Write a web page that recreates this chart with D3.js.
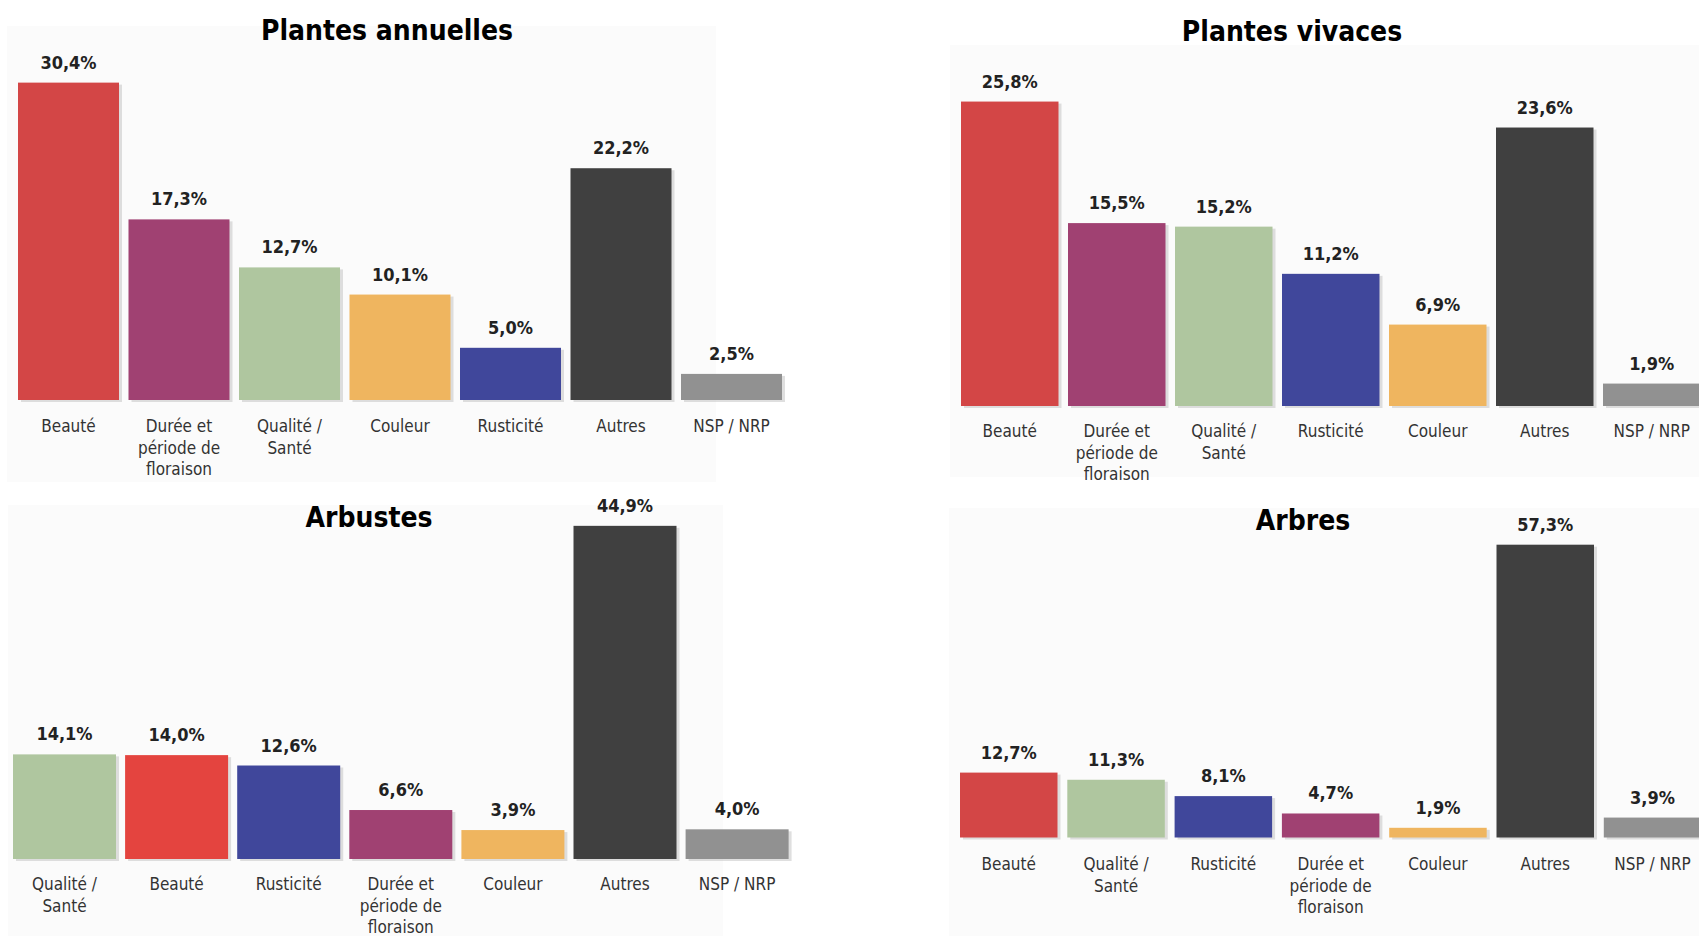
<!DOCTYPE html>
<html>
<head>
<meta charset="utf-8">
<script src="https://cdn.jsdelivr.net/npm/d3@7"></script>
<style>
  html, body { margin: 0; padding: 0; background: #fff; }
  svg { display: block; font-family: "DejaVu Sans Condensed", "DejaVu Sans", sans-serif; }
</style>
</head>
<body>
<svg id="chart" width="1699" height="936"></svg>
<script>
// data
const annuellesCats = ['Beauté', 'Durée et\npériode de\nfloraison', 'Qualité /\nSanté', 'Couleur', 'Rusticité', 'Autres', 'NSP / NRP'];
const annuellesVals = [30.4, 17.3, 12.7, 10.1, 5.0, 22.2, 2.5];

const vivacesCats = ['Beauté', 'Durée et\npériode de\nfloraison', 'Qualité /\nSanté', 'Rusticité', 'Couleur', 'Autres', 'NSP / NRP'];
const vivacesVals = [25.8, 15.5, 15.2, 11.2, 6.9, 23.6, 1.9];

const arbustesCats = ['Qualité /\nSanté', 'Beauté', 'Rusticité', 'Durée et\npériode de\nfloraison', 'Couleur', 'Autres', 'NSP / NRP'];
const arbustesVals = [14.1, 14.0, 12.6, 6.6, 3.9, 44.9, 4.0];

const arbresCats = ['Beauté', 'Qualité /\nSanté', 'Rusticité', 'Durée et\npériode de\nfloraison', 'Couleur', 'Autres', 'NSP / NRP'];
const arbresVals = [12.7, 11.3, 8.1, 4.7, 1.9, 57.3, 3.9];

const colorKeys = ['Beauté', 'Durée et\npériode de\nfloraison', 'Qualité /\nSanté', 'Couleur', 'Rusticité', 'Autres', 'NSP / NRP'];
const colorVals = ['#d34646', '#a04172', '#afc69f', '#efb55f', '#40479b', '#404040', '#919191'];

// layout of each panel (pixels)
const panels = [
    { title: 'Plantes annuelles', cats: annuellesCats, vals: annuellesVals,
      left: 18, step: 110.5, width: 101, baseline: 400, ppp: 10.44,
      titleX: 387, titleY: 40, labelY: 432, bg: [7, 26, 709, 456] },
    { title: 'Plantes vivaces', cats: vivacesCats, vals: vivacesVals,
      left: 961, step: 107, width: 97.5, baseline: 406, ppp: 11.8,
      titleX: 1292, titleY: 41, labelY: 437, bg: [950, 45, 749, 432] },
    { title: 'Arbustes', cats: arbustesCats, vals: arbustesVals,
      left: 13, step: 112.1, width: 103, baseline: 859, ppp: 7.42,
      titleX: 369, titleY: 527, labelY: 890, bg: [8, 505, 715, 431],
      override: { 'Beauté': '#e4443f' } },
    { title: 'Arbres', cats: arbresCats, vals: arbresVals,
      left: 960, step: 107.3, width: 97.5, baseline: 837.5, ppp: 5.11,
      titleX: 1303, titleY: 530, labelY: 870, bg: [949, 508, 750, 428] }
];

const color = d3.scaleOrdinal().domain(colorKeys).range(colorVals);
const frFormat = d3.formatLocale({ decimal: ',', thousands: ' ', grouping: [3], currency: ['', ' €'] }).format('.1f');

const svg = d3.select('#chart');

panels.forEach(function (p) {
    const g = svg.append('g');

    g.append('rect')
        .attr('x', p.bg[0]).attr('y', p.bg[1])
        .attr('width', p.bg[2]).attr('height', p.bg[3])
        .attr('fill', '#fbfbfb');

    const n = p.cats.length;
    const pad = 1 - p.width / p.step;
    const x = d3.scaleBand()
        .domain(p.cats)
        .range([p.left - p.step * pad / 2, p.left - p.step * pad / 2 + n * p.step])
        .paddingInner(pad)
        .paddingOuter(pad / 2);
    const y = d3.scaleLinear()
        .domain([0, 100])
        .range([p.baseline, p.baseline - 100 * p.ppp]);

    const data = p.cats.map((c, i) => ({ cat: c, val: p.vals[i] }));

    // soft shadow
    g.selectAll('rect.shadow')
        .data(data)
        .enter()
        .append('rect')
        .attr('class', 'shadow')
        .attr('x', d => x(d.cat) + 3)
        .attr('y', d => y(d.val) + 2)
        .attr('width', x.bandwidth())
        .attr('height', d => y(0) - y(d.val))
        .attr('fill', '#c4c4c4')
        .attr('opacity', 0.55);

    g.selectAll('rect.bar')
        .data(data)
        .enter()
        .append('rect')
        .attr('class', 'bar')
        .attr('x', d => x(d.cat))
        .attr('y', d => y(d.val))
        .attr('width', x.bandwidth())
        .attr('height', d => y(0) - y(d.val))
        .attr('fill', d => (p.override && p.override[d.cat]) || color(d.cat));

    g.selectAll('text.value')
        .data(data)
        .enter()
        .append('text')
        .attr('class', 'value')
        .attr('x', d => x(d.cat) + x.bandwidth() / 2)
        .attr('y', d => y(d.val) - 14)
        .attr('text-anchor', 'middle')
        .attr('font-size', 18)
        .attr('font-weight', 'bold')
        .attr('fill', '#222')
        .text(d => frFormat(d.val) + '%');

    const labels = g.selectAll('text.cat')
        .data(data)
        .enter()
        .append('text')
        .attr('class', 'cat')
        .attr('x', d => x(d.cat) + x.bandwidth() / 2)
        .attr('y', p.labelY)
        .attr('text-anchor', 'middle')
        .attr('font-size', 17)
        .attr('fill', '#333');

    labels.each(function (d) {
        const t = d3.select(this);
        d.cat.split('\n').forEach(function (line, i) {
            t.append('tspan')
                .attr('x', x(d.cat) + x.bandwidth() / 2)
                .attr('dy', i === 0 ? 0 : 21.5)
                .text(line);
        });
    });

    g.append('text')
        .attr('x', p.titleX)
        .attr('y', p.titleY)
        .attr('text-anchor', 'middle')
        .attr('font-size', 28)
        .attr('font-weight', 'bold')
        .attr('fill', '#000')
        .text(p.title);
});
</script>
</body>
</html>
